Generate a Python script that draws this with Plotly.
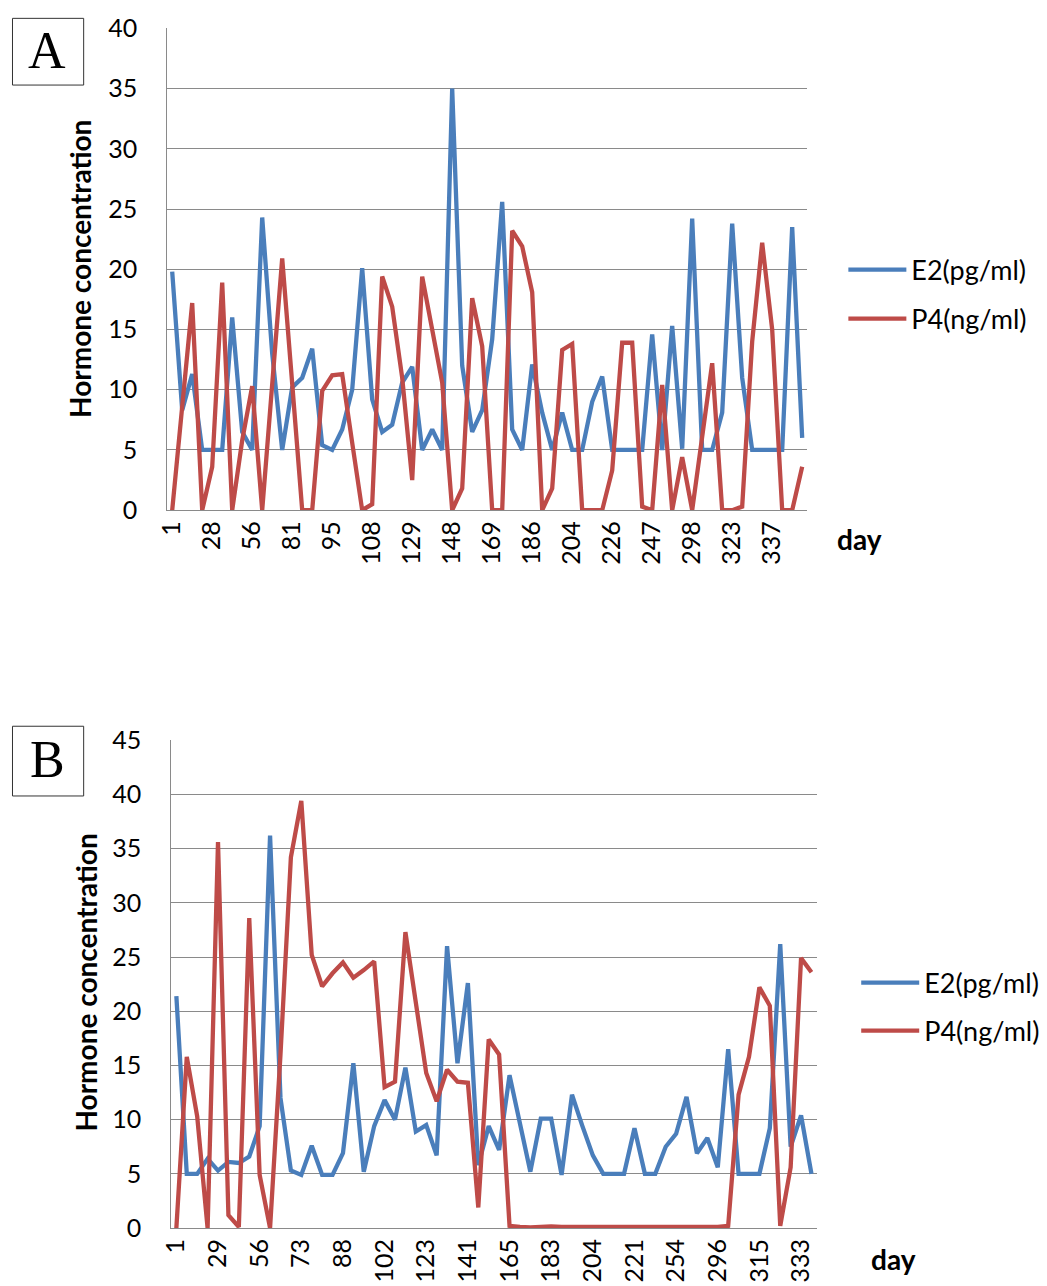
import plotly.graph_objects as go

# ---------------- data ----------------
a_tick_labels = ["1", "28", "56", "81", "95", "108", "129", "148", "169", "186",
                 "204", "226", "247", "298", "323", "337"]
a_e2 = [19.8, 8.3, 11.3, 5, 5, 5, 16.0, 6.5, 5, 24.3, 13, 5, 10.2, 11.0, 13.4, 5.4,
        5.0, 6.7, 10, 20.1, 9.2, 6.5, 7.1, 10.6, 11.9, 5, 6.7, 5, 35, 12, 6.5, 8.3,
        14.2, 25.6, 6.7, 5, 12.1, 8.1, 5, 8.1, 5, 5, 9, 11.1, 5, 5, 5, 5,
        14.6, 5, 15.3, 5.1, 24.2, 5, 5, 8.1, 23.8, 11, 5, 5, 5, 5, 23.5, 6.0]
a_p4 = [0, 8.5, 17.2, 0, 3.6, 18.9, 0, 5.8, 10.3, 0, 10, 20.9, 10.5, 0, 0, 9.9,
        11.2, 11.3, 5.6, 0, 0.5, 19.4, 16.9, 11, 2.5, 19.4, 15, 10.6, 0, 1.8, 17.6, 13.6,
        0, 0, 23.2, 21.9, 18.1, 0, 1.8, 13.3, 13.8, 0, 0, 0, 3.3, 13.9, 13.9, 0.3,
        0, 10.4, 0, 4.4, 0, 6, 12.2, 0, 0, 0.3, 14, 22.2, 15, 0, 0, 3.6]

b_tick_labels = ["1", "29", "56", "73", "88", "102", "123", "141", "165", "183",
                 "204", "221", "254", "296", "315", "333"]
b_e2 = [21.4, 5.0, 5.0, 6.4, 5.3, 6.1, 6.0, 6.6, 9.4, 36.2, 12, 5.3, 4.9, 7.6, 4.9, 4.9,
        6.9, 15.2, 5.2, 9.4, 11.8, 10.0, 14.8, 8.9, 9.5, 6.7, 26.0, 15.2, 22.6, 5.8, 9.4, 7.2,
        14.1, 9.8, 5.2, 10.1, 10.1, 4.9, 12.3, 9.4, 6.7, 5.0, 5.0, 5.0, 9.2, 5.0, 5.0, 7.5,
        8.7, 12.1, 6.9, 8.3, 5.6, 16.5, 5.0, 5.0, 5.0, 9.2, 26.2, 7.5, 10.4, 5.0]
b_p4 = [0, 15.8, 10.3, 0, 35.6, 1.2, 0.1, 28.6, 4.9, 0, 16, 34.2, 39.4, 25.2, 22.3, 23.5,
        24.5, 23.1, 23.8, 24.6, 13.0, 13.5, 27.3, 20.5, 14.3, 11.7, 14.6, 13.5, 13.4, 1.9, 17.4, 16.0,
        0.2, 0.1, 0.05, 0.1, 0.15, 0.1, 0.1, 0.1, 0.1, 0.1, 0.05, 0.1, 0.1, 0.05, 0.1, 0.05,
        0.1, 0.1, 0.05, 0.1, 0.1, 0.2, 12.3, 15.8, 22.2, 20.5, 0.2, 5.6, 24.9, 23.6]

series_names = ["E2(pg/ml)", "P4(ng/ml)"]
BLUE = "#4A7EBB"
RED = "#BE4B48"
GRID = "#8A8A8A"
FONT = "Lato, 'Open Sans', sans-serif"
SERIF = "'Liberation Serif', 'DejaVu Serif', serif"

W, H = 1047, 1286


def px(x):
    return x / W


def py(y):
    return 1 - y / H


fig = go.Figure()

a_x = list(range(len(a_e2)))
b_x = list(range(len(b_e2)))

fig.add_trace(go.Scatter(x=a_x, y=a_e2, mode="lines", name=series_names[0],
                         line=dict(color=BLUE, width=4.3), xaxis="x", yaxis="y",
                         legend="legend", legendgroup="a1"))
fig.add_trace(go.Scatter(x=a_x, y=a_p4, mode="lines", name=series_names[1],
                         line=dict(color=RED, width=4.3), xaxis="x", yaxis="y",
                         legend="legend", legendgroup="a2"))
fig.add_trace(go.Scatter(x=b_x, y=b_e2, mode="lines", name=series_names[0],
                         line=dict(color=BLUE, width=4.3), xaxis="x2", yaxis="y2",
                         legend="legend2", legendgroup="b1"))
fig.add_trace(go.Scatter(x=b_x, y=b_p4, mode="lines", name=series_names[1],
                         line=dict(color=RED, width=4.3), xaxis="x2", yaxis="y2",
                         legend="legend2", legendgroup="b2"))

tickfont = dict(family=FONT, size=25, color="#000000")

xcommon = dict(tickmode="array", tickangle=-90, tickfont=tickfont,
               showgrid=False, zeroline=False, showline=True, linecolor=GRID,
               linewidth=1, ticks="", fixedrange=True)
ycommon = dict(tickfont=tickfont, showgrid=True, gridcolor=GRID, gridwidth=1,
               zeroline=False, showline=True, linecolor=GRID, linewidth=1,
               ticks="", ticklabelstandoff=24, fixedrange=True)

legend_font = dict(family=FONT, size=27, color="#000000")

fig.update_layout(
    width=W, height=H,
    margin=dict(l=0, r=0, t=0, b=0),
    paper_bgcolor="white", plot_bgcolor="white",
    showlegend=True,
    xaxis=dict(xcommon, domain=[px(157.0), px(804.4)], anchor="y",
               range=[-0.5, len(a_e2) - 0.5],
               tickvals=list(range(0, len(a_e2), 4))[:len(a_tick_labels)],
               ticktext=a_tick_labels),
    yaxis=dict(ycommon, domain=[py(506.0), py(12.7)], anchor="x",
               range=[0, 40], dtick=5),
    xaxis2=dict(xcommon, domain=[px(161.0), px(814.0)], anchor="y2",
                range=[-0.5, len(b_e2) - 0.5],
                tickvals=list(range(0, len(b_e2), 4))[:len(b_tick_labels)],
                ticktext=b_tick_labels),
    yaxis2=dict(ycommon, domain=[py(1241.0), py(741.5)], anchor="x2",
                range=[0, 45], dtick=5),
    legend=dict(x=px(841), y=py(235), xanchor="left", yanchor="top",
                font=legend_font, itemwidth=58, traceorder="grouped",
                tracegroupgap=11, bgcolor="rgba(0,0,0,0)"),
    legend2=dict(x=px(854), y=py(965), xanchor="left", yanchor="top",
                 font=legend_font, itemwidth=58, traceorder="grouped",
                 tracegroupgap=10, bgcolor="rgba(0,0,0,0)"),
)

title_font = dict(family=FONT, size=28, color="#000000")
annotations = [
    dict(text="<b>Hormone concentration</b>", x=px(69.5), y=py(259.3), xref="paper", yref="paper",
         textangle=-90, showarrow=False, font=title_font, xanchor="center", yanchor="middle"),
    dict(text="<b>Hormone concentration</b>", x=px(75.3), y=py(989.2), xref="paper", yref="paper",
         textangle=-90, showarrow=False, font=title_font, xanchor="center", yanchor="middle"),
    dict(text="<b>day</b>", x=px(856.9), y=py(536.0), xref="paper", yref="paper",
         showarrow=False, font=title_font, xanchor="center", yanchor="middle"),
    dict(text="<b>day</b>", x=px(892.0), y=py(1273), xref="paper", yref="paper",
         showarrow=False, font=title_font, xanchor="center", yanchor="middle"),
    dict(text="A", x=px(35.5), y=py(35.5), xref="paper", yref="paper", showarrow=False,
         font=dict(family=SERIF, size=52, color="#000000"),
         xanchor="center", yanchor="middle"),
    dict(text="B", x=px(35.5), y=py(761), xref="paper", yref="paper", showarrow=False,
         font=dict(family=SERIF, size=52, color="#000000"),
         xanchor="center", yanchor="middle"),
]
fig.update_layout(annotations=annotations)

fig.add_shape(type="rect", xref="paper", yref="paper",
              x0=px(0.5), x1=px(72.5), y0=py(70.7), y1=py(2.4),
              line=dict(color="#333333", width=1))
fig.add_shape(type="rect", xref="paper", yref="paper",
              x0=px(0.5), x1=px(72.5), y0=py(798.6), y1=py(727.2),
              line=dict(color="#333333", width=1))

fig.write_html(
    "out.html",
    config={"displayModeBar": False},
    post_script="document.body.style.margin='0';document.body.style.padding='0';"
                "document.body.style.overflow='hidden';",
)
